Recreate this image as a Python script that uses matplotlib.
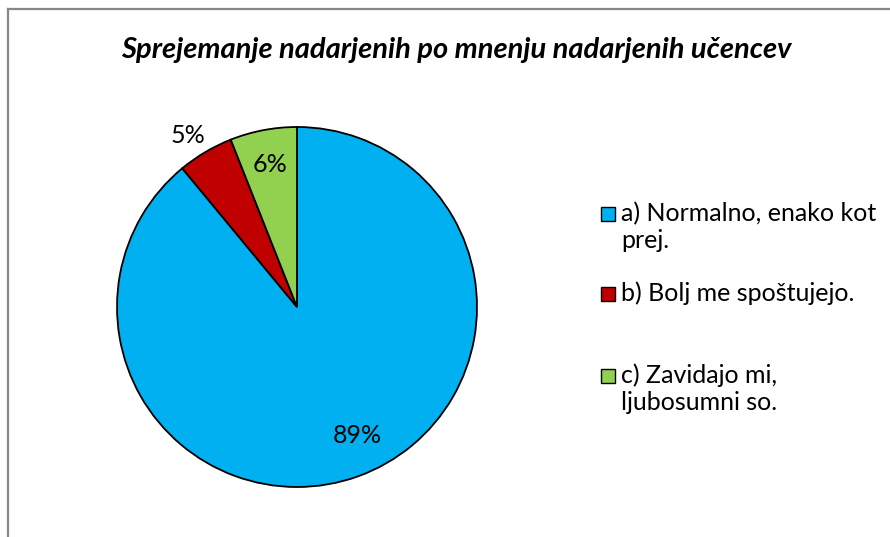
import matplotlib.pyplot as plt
import numpy as np
from matplotlib.patches import Rectangle
from matplotlib.lines import Line2D

# podatki
kategorije = ["a) Normalno, enako kot\nprej.", "b) Bolj me spoštujejo.", "c) Zavidajo mi,\nljubosumni so."]
odstotki = [89, 5, 6]
barve = ["#00B0F0", "#C00000", "#92D050"]
naslov = "Sprejemanje nadarjenih po mnenju nadarjenih učencev"

plt.rcParams['font.family'] = ['Lato', 'DejaVu Sans']

W, H = 890, 537
fig = plt.figure(figsize=(W / 100, H / 100), dpi=100)

# okvir grafikona (levo in zgoraj)
fig.add_artist(Line2D([8 / W, 8 / W], [0, 1 - 9 / H], color="#878787", lw=1.6))
fig.add_artist(Line2D([8 / W, 1], [1 - 9 / H, 1 - 9 / H], color="#878787", lw=1.6))

fig.text(456 / W, 1 - 58 / H, naslov, ha="center", va="baseline",
         fontsize=21, fontweight="bold", fontstyle="italic")

# tortni diagram
cx, cy, r = 297, 307, 180
ax = fig.add_axes([(cx - r) / W, (H - cy - r) / H, 2 * r / W, 2 * r / H])
wedges, _ = ax.pie(odstotki, colors=barve, startangle=90, counterclock=False,
                   wedgeprops=dict(edgecolor="black", linewidth=1.3))
ax.set_xlim(-1, 1)
ax.set_ylim(-1, 1)
ax.set_aspect("equal")
ax.axis("off")

# polozaj oznak: razdalja od sredisca in zamik kota
razdalje = [0.778, 1.141, 0.814]
zamiki = [5.6, 1.5, -0.2]
for w, p, d, z in zip(wedges, odstotki, razdalje, zamiki):
    kot = np.deg2rad((w.theta1 + w.theta2) / 2 + z)
    ax.text(d * np.cos(kot), d * np.sin(kot), f"{p}%", ha="center", va="center_baseline",
            fontsize=18)

# legenda (vsaka vrstica posebej, da je osnovnica prve vrstice poravnana s kvadratkom)
legenda_y = [221, 301, 383]
razmik = 27
for kat, b, y in zip(kategorije, barve, legenda_y):
    fig.add_artist(Rectangle((601 / W, 1 - y / H), 14 / W, 14 / H,
                             facecolor=b, edgecolor="black", lw=1))
    for i, vrstica in enumerate(kat.split("\n")):
        fig.text(621 / W, 1 - (y + i * razmik) / H, vrstica, ha="left", va="baseline",
                 fontsize=18)

fig.savefig("out.png", dpi=100)
